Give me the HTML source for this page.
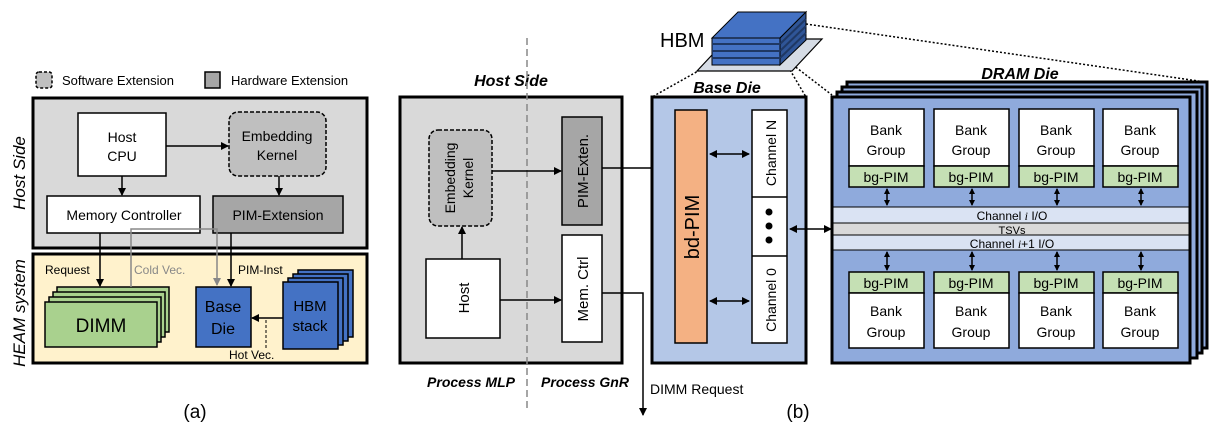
<!DOCTYPE html>
<html><head><meta charset="utf-8"><style>
html,body{margin:0;padding:0;background:#fff;}
svg{display:block;font-family:"Liberation Sans",Arial,sans-serif;}
</style></head><body>
<svg width="1226" height="434" viewBox="0 0 1226 434" xmlns="http://www.w3.org/2000/svg">
<defs>
<marker id="ah" markerWidth="8" markerHeight="8" refX="7" refY="4" orient="auto" markerUnits="userSpaceOnUse"><path d="M0,0 L8,4 L0,8 z" fill="#000"/></marker>
<marker id="ahs" markerWidth="8" markerHeight="8" refX="1" refY="4" orient="auto" markerUnits="userSpaceOnUse"><path d="M8,0 L0,4 L8,8 z" fill="#000"/></marker>
<marker id="sh" markerWidth="6" markerHeight="6" refX="5" refY="3" orient="auto" markerUnits="userSpaceOnUse"><path d="M0,0 L6,3 L0,6 z" fill="#000"/></marker>
<marker id="shs" markerWidth="6" markerHeight="6" refX="1" refY="3" orient="auto" markerUnits="userSpaceOnUse"><path d="M6,0 L0,3 L6,6 z" fill="#000"/></marker>
<marker id="ahg" markerWidth="8" markerHeight="8" refX="7" refY="4" orient="auto" markerUnits="userSpaceOnUse"><path d="M0,0 L8,4 L0,8 z" fill="#888"/></marker>
</defs>

<!-- (a) legend -->
<rect x="36" y="72" width="16" height="16" rx="3" fill="#bfbfbf" stroke="#000" stroke-width="1.5" stroke-dasharray="3,2"/>
<text x="62" y="85" font-size="13">Software Extension</text>
<rect x="205" y="72" width="15" height="16" fill="#a6a6a6" stroke="#000" stroke-width="1.5"/>
<text x="231" y="85" font-size="13">Hardware Extension</text>

<rect x="33" y="98" width="334" height="150" fill="#d9d9d9" stroke="#000" stroke-width="3"/>
<rect x="33" y="254" width="334" height="109" fill="#fff2cc" stroke="#000" stroke-width="3"/>
<text transform="translate(25,173) rotate(-90)" text-anchor="middle" font-size="17" font-style="italic">Host Side</text>
<text transform="translate(25,313) rotate(-90)" text-anchor="middle" font-size="17" font-style="italic">HEAM system</text>

<rect x="78" y="113" width="88" height="63" fill="#fff" stroke="#000" stroke-width="1.5"/>
<text x="122" y="142" text-anchor="middle" font-size="14">Host</text>
<text x="122" y="161" text-anchor="middle" font-size="14">CPU</text>
<rect x="229" y="112" width="97" height="64" rx="9" fill="#bfbfbf" stroke="#000" stroke-width="1.5" stroke-dasharray="4,2"/>
<text x="277" y="141" text-anchor="middle" font-size="14">Embedding</text>
<text x="277" y="160" text-anchor="middle" font-size="14">Kernel</text>
<rect x="47" y="196" width="153" height="37" fill="#fff" stroke="#000" stroke-width="1.5"/>
<text x="124" y="220" text-anchor="middle" font-size="14">Memory Controller</text>
<rect x="213" y="196" width="130" height="37" fill="#a6a6a6" stroke="#000" stroke-width="1.5"/>
<text x="278" y="220" text-anchor="middle" font-size="14">PIM-Extension</text>
<line x1="122" y1="176" x2="122" y2="195" stroke="#000" stroke-width="1.5" marker-end="url(#ah)"/>
<line x1="279" y1="176" x2="279" y2="195" stroke="#000" stroke-width="1.5" marker-end="url(#ah)"/>
<line x1="166" y1="146" x2="228" y2="146" stroke="#000" stroke-width="1.5" marker-end="url(#ah)"/>

<!-- DIMM stack -->
<rect x="57" y="287" width="112" height="45" fill="#a9d18e" stroke="#000" stroke-width="1.5"/>
<rect x="53" y="292" width="112" height="45" fill="#a9d18e" stroke="#000" stroke-width="1.5"/>
<rect x="49" y="297" width="112" height="45" fill="#a9d18e" stroke="#000" stroke-width="1.5"/>
<rect x="45" y="302" width="112" height="45" fill="#a9d18e" stroke="#000" stroke-width="1.5"/>
<text x="101" y="332" text-anchor="middle" font-size="19">DIMM</text>
<!-- HBM stack -->
<rect x="298" y="270" width="55" height="67" fill="#4472c4" stroke="#000" stroke-width="1.5"/>
<rect x="293" y="274" width="55" height="67" fill="#4472c4" stroke="#000" stroke-width="1.5"/>
<rect x="288" y="278" width="55" height="67" fill="#4472c4" stroke="#000" stroke-width="1.5"/>
<rect x="283" y="282" width="55" height="67" fill="#4472c4" stroke="#000" stroke-width="1.5"/>
<text x="310" y="311" text-anchor="middle" font-size="15">HBM</text>
<text x="310" y="331" text-anchor="middle" font-size="15">stack</text>
<rect x="196" y="287" width="55" height="60" fill="#4472c4" stroke="#000" stroke-width="1.5"/>
<text x="223" y="312" text-anchor="middle" font-size="16">Base</text>
<text x="223" y="334" text-anchor="middle" font-size="16">Die</text>

<polyline points="131,287 131,229 217,229 217,285" fill="none" stroke="#888" stroke-width="1.5" marker-end="url(#ahg)"/>
<line x1="100" y1="233" x2="100" y2="286" stroke="#000" stroke-width="1.5" marker-end="url(#ah)"/>
<line x1="231" y1="233" x2="231" y2="286" stroke="#000" stroke-width="1.5" marker-end="url(#ah)"/>
<line x1="283" y1="318" x2="252" y2="318" stroke="#000" stroke-width="1.5" marker-end="url(#ah)"/>
<line x1="266" y1="320" x2="266" y2="350" stroke="#000" stroke-width="1" stroke-dasharray="3,2"/>
<text x="45" y="274" font-size="12">Request</text>
<text x="134" y="274" font-size="12" fill="#888">Cold Vec.</text>
<text x="238" y="274" font-size="12">PIM-Inst</text>
<text x="229" y="359" font-size="12">Hot Vec.</text>
<text x="195" y="418" text-anchor="middle" font-size="19">(a)</text>

<!-- (b) host side -->
<rect x="400" y="97" width="222" height="266" fill="#d9d9d9" stroke="#000" stroke-width="3"/>
<text x="511" y="86" text-anchor="middle" font-size="16" font-weight="bold" font-style="italic">Host Side</text>
<line x1="527" y1="38" x2="527" y2="412" stroke="#888" stroke-width="1.5" stroke-dasharray="7,4"/>
<rect x="429" y="130" width="63" height="96" rx="9" fill="#bfbfbf" stroke="#000" stroke-width="1.5" stroke-dasharray="4,2"/>
<text transform="translate(455,178) rotate(-90)" text-anchor="middle" font-size="14">Embedding</text>
<text transform="translate(473,178) rotate(-90)" text-anchor="middle" font-size="14">Kernel</text>
<rect x="562" y="117" width="40" height="108" fill="#a6a6a6" stroke="#000" stroke-width="1.5"/>
<text transform="translate(588,171) rotate(-90)" text-anchor="middle" font-size="15">PIM-Exten.</text>
<rect x="426" y="259" width="74" height="79" fill="#fff" stroke="#000" stroke-width="1.5"/>
<text transform="translate(469,298) rotate(-90)" text-anchor="middle" font-size="15">Host</text>
<rect x="562" y="235" width="40" height="107" fill="#fff" stroke="#000" stroke-width="1.5"/>
<text transform="translate(588,289) rotate(-90)" text-anchor="middle" font-size="15">Mem. Ctrl</text>
<line x1="462" y1="259" x2="462" y2="227" stroke="#000" stroke-width="1.5" marker-end="url(#ah)"/>
<line x1="500" y1="300" x2="561" y2="300" stroke="#000" stroke-width="1.5" marker-end="url(#ah)"/>
<line x1="492" y1="171" x2="561" y2="171" stroke="#000" stroke-width="1.5" marker-end="url(#ah)"/>
<line x1="602" y1="168" x2="674" y2="168" stroke="#000" stroke-width="1.5" marker-end="url(#ah)"/>
<polyline points="602,293 643,293 643,415" fill="none" stroke="#000" stroke-width="1.5" marker-end="url(#ah)"/>
<text x="471" y="387" text-anchor="middle" font-size="14" font-weight="bold" font-style="italic">Process MLP</text>
<text x="585" y="387" text-anchor="middle" font-size="14" font-weight="bold" font-style="italic">Process GnR</text>
<text x="650" y="394" font-size="14">DIMM Request</text>
<text x="798" y="418" text-anchor="middle" font-size="19">(b)</text>

<!-- dotted connectors -->
<g stroke="#000" stroke-width="1.5" stroke-dasharray="2,2" fill="none">
<line x1="700" y1="70" x2="652" y2="97"/>
<line x1="790" y1="70" x2="806" y2="97"/>
<line x1="780" y1="55" x2="832" y2="95"/>
<line x1="806" y1="24" x2="1205" y2="82"/>
</g>

<!-- HBM icon -->
<polygon points="697,71 792,71 822,39 727,39" fill="#d6dce5" stroke="#000" stroke-width="1.2"/>
<polygon points="712,38 780,38 806,12 738,12" fill="#4472c4" stroke="#000" stroke-width="1"/>
<polygon points="780,38 806,12 806,40 780,65" fill="#2f5597" stroke="#000" stroke-width="1"/>
<rect x="712" y="38" width="68" height="27" fill="#4472c4" stroke="#000" stroke-width="1"/>
<g stroke="#1f3864" stroke-width="2"><line x1="712" y1="44" x2="780" y2="44"/><line x1="712" y1="51" x2="780" y2="51"/><line x1="712" y1="58" x2="780" y2="58"/>
<line x1="780" y1="44" x2="806" y2="19"/><line x1="780" y1="51" x2="806" y2="26"/><line x1="780" y1="58" x2="806" y2="33"/></g>
<text x="660" y="47" font-size="20">HBM</text>

<!-- base die -->
<rect x="652" y="97" width="154" height="266" fill="#b4c7e7" stroke="#000" stroke-width="3"/>
<text x="727" y="93" text-anchor="middle" font-size="16" font-weight="bold" font-style="italic">Base Die</text>
<rect x="675" y="110" width="32" height="233" fill="#f4b183" stroke="#000" stroke-width="1.5"/>
<text transform="translate(699,227) rotate(-90)" text-anchor="middle" font-size="20">bd-PIM</text>
<rect x="752" y="110" width="35" height="233" fill="#fff" stroke="#000" stroke-width="1.5"/>
<line x1="752" y1="197" x2="787" y2="197" stroke="#000" stroke-width="1.5"/>
<line x1="752" y1="256" x2="787" y2="256" stroke="#000" stroke-width="1.5"/>
<text transform="translate(776,153) rotate(-90)" text-anchor="middle" font-size="14">Channel N</text>
<text transform="translate(776,300) rotate(-90)" text-anchor="middle" font-size="14">Channel 0</text>
<circle cx="769" cy="212" r="3.5" fill="#000"/><circle cx="769" cy="226" r="3.5" fill="#000"/><circle cx="769" cy="240" r="3.5" fill="#000"/>
<line x1="710" y1="154" x2="749" y2="154" stroke="#000" stroke-width="1.5" marker-start="url(#ahs)" marker-end="url(#ah)"/>
<line x1="710" y1="301" x2="749" y2="301" stroke="#000" stroke-width="1.5" marker-start="url(#ahs)" marker-end="url(#ah)"/>
<line x1="790" y1="229" x2="831" y2="229" stroke="#000" stroke-width="1.5" marker-start="url(#ahs)" marker-end="url(#ah)"/>

<!-- DRAM die -->
<rect x="847" y="82" width="360" height="266" fill="#8faadc" stroke="#000" stroke-width="3"/>
<rect x="842" y="87" width="360" height="266" fill="#8faadc" stroke="#000" stroke-width="3"/>
<rect x="837" y="92" width="360" height="266" fill="#8faadc" stroke="#000" stroke-width="3"/>
<rect x="832" y="97" width="358" height="266" fill="#8faadc" stroke="#000" stroke-width="3"/>
<text x="1020" y="79" text-anchor="middle" font-size="16" font-weight="bold" font-style="italic">DRAM Die</text>
<rect x="833" y="207" width="356" height="16" fill="#dae3f3" stroke="#000" stroke-width="1"/>
<rect x="833" y="223" width="356" height="12" fill="#d9d9d9" stroke="#000" stroke-width="1"/>
<rect x="833" y="235" width="356" height="15" fill="#dae3f3" stroke="#000" stroke-width="1"/>
<text x="1012" y="220" text-anchor="middle" font-size="12">Channel <tspan font-style="italic" font-family="Liberation Serif">i</tspan> I/O</text>
<text x="1012" y="234" text-anchor="middle" font-size="11">TSVs</text>
<text x="1012" y="248" text-anchor="middle" font-size="12">Channel <tspan font-style="italic" font-family="Liberation Serif">i</tspan>+1 I/O</text>

<g font-size="14" text-anchor="middle">
<rect x="849" y="109" width="75" height="57" fill="#fff" stroke="#000" stroke-width="1.5"/>
<rect x="849" y="166" width="75" height="21" fill="#c5e0b4" stroke="#000" stroke-width="1.5"/>
<rect x="934" y="109" width="75" height="57" fill="#fff" stroke="#000" stroke-width="1.5"/>
<rect x="934" y="166" width="75" height="21" fill="#c5e0b4" stroke="#000" stroke-width="1.5"/>
<rect x="1019" y="109" width="75" height="57" fill="#fff" stroke="#000" stroke-width="1.5"/>
<rect x="1019" y="166" width="75" height="21" fill="#c5e0b4" stroke="#000" stroke-width="1.5"/>
<rect x="1103" y="109" width="75" height="57" fill="#fff" stroke="#000" stroke-width="1.5"/>
<rect x="1103" y="166" width="75" height="21" fill="#c5e0b4" stroke="#000" stroke-width="1.5"/>

<rect x="849" y="272" width="75" height="21" fill="#c5e0b4" stroke="#000" stroke-width="1.5"/>
<rect x="849" y="293" width="75" height="55" fill="#fff" stroke="#000" stroke-width="1.5"/>
<rect x="934" y="272" width="75" height="21" fill="#c5e0b4" stroke="#000" stroke-width="1.5"/>
<rect x="934" y="293" width="75" height="55" fill="#fff" stroke="#000" stroke-width="1.5"/>
<rect x="1019" y="272" width="75" height="21" fill="#c5e0b4" stroke="#000" stroke-width="1.5"/>
<rect x="1019" y="293" width="75" height="55" fill="#fff" stroke="#000" stroke-width="1.5"/>
<rect x="1103" y="272" width="75" height="21" fill="#c5e0b4" stroke="#000" stroke-width="1.5"/>
<rect x="1103" y="293" width="75" height="55" fill="#fff" stroke="#000" stroke-width="1.5"/>

<text x="886" y="135">Bank</text><text x="886" y="155">Group</text><text x="886" y="182">bg-PIM</text>
<text x="971" y="135">Bank</text><text x="971" y="155">Group</text><text x="971" y="182">bg-PIM</text>
<text x="1056" y="135">Bank</text><text x="1056" y="155">Group</text><text x="1056" y="182">bg-PIM</text>
<text x="1140" y="135">Bank</text><text x="1140" y="155">Group</text><text x="1140" y="182">bg-PIM</text>
<text x="886" y="288">bg-PIM</text><text x="886" y="316">Bank</text><text x="886" y="337">Group</text>
<text x="971" y="288">bg-PIM</text><text x="971" y="316">Bank</text><text x="971" y="337">Group</text>
<text x="1056" y="288">bg-PIM</text><text x="1056" y="316">Bank</text><text x="1056" y="337">Group</text>
<text x="1140" y="288">bg-PIM</text><text x="1140" y="316">Bank</text><text x="1140" y="337">Group</text>
</g>
<g stroke="#000" stroke-width="1.5">
<line x1="887" y1="189" x2="887" y2="205" marker-start="url(#shs)" marker-end="url(#sh)"/>
<line x1="972" y1="189" x2="972" y2="205" marker-start="url(#shs)" marker-end="url(#sh)"/>
<line x1="1057" y1="189" x2="1057" y2="205" marker-start="url(#shs)" marker-end="url(#sh)"/>
<line x1="1141" y1="189" x2="1141" y2="205" marker-start="url(#shs)" marker-end="url(#sh)"/>
<line x1="887" y1="252" x2="887" y2="270" marker-start="url(#shs)" marker-end="url(#sh)"/>
<line x1="972" y1="252" x2="972" y2="270" marker-start="url(#shs)" marker-end="url(#sh)"/>
<line x1="1057" y1="252" x2="1057" y2="270" marker-start="url(#shs)" marker-end="url(#sh)"/>
<line x1="1141" y1="252" x2="1141" y2="270" marker-start="url(#shs)" marker-end="url(#sh)"/>
</g>
</svg>
</body></html>
